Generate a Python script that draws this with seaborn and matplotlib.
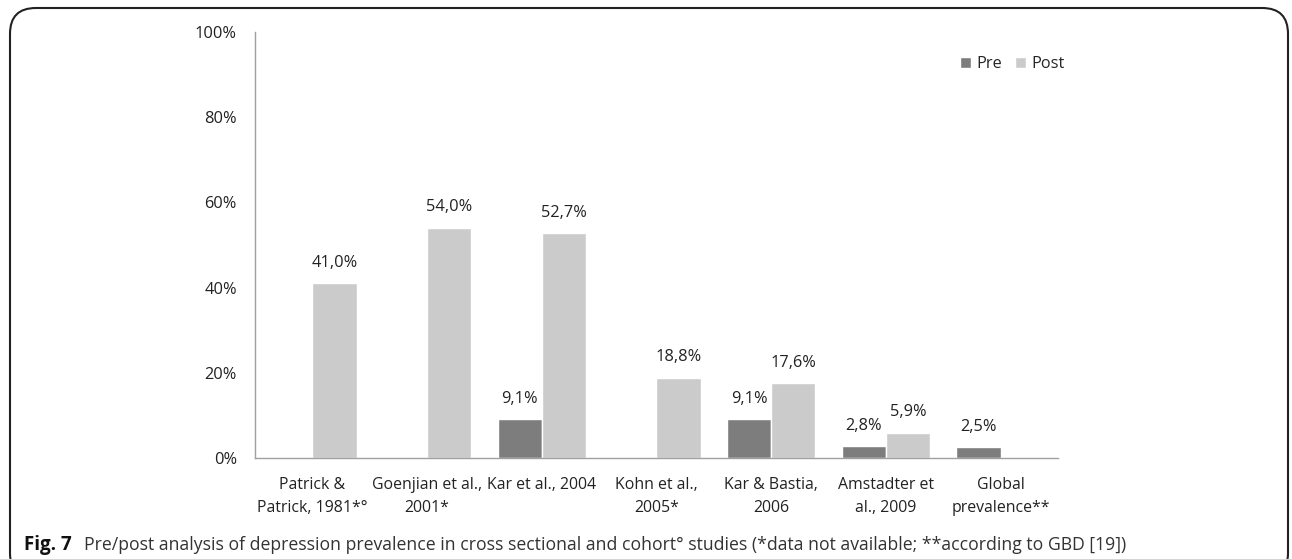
import matplotlib
matplotlib.use("Agg")
import matplotlib.pyplot as plt
from matplotlib.patches import FancyBboxPatch
import seaborn as sns
import pandas as pd
import numpy as np

categories = ["Patrick &\nPatrick, 1981*°", "Goenjian et al.,\n2001*", "Kar et al., 2004",
              "Kohn et al.,\n2005*", "Kar & Bastia,\n2006", "Amstadter et\nal., 2009", "Global\nprevalence**"]
pre = [np.nan, np.nan, 9.1, np.nan, 9.1, 2.8, 2.5]
post = [41.0, 54.0, 52.7, 18.8, 17.6, 5.9, np.nan]
yticks = [0, 20, 40, 60, 80, 100]

rows = []
for c, a, b in zip(categories, pre, post):
    if not np.isnan(a):
        rows.append({"cat": c, "series": "Pre", "val": a})
    if not np.isnan(b):
        rows.append({"cat": c, "series": "Post", "val": b})
df = pd.DataFrame(rows)

sns.set_theme(style="white")
plt.rcParams['font.family'] = ['Open Sans', 'DejaVu Sans']

fig = plt.figure(figsize=(12.92, 5.59), dpi=100)
ax = fig.add_axes([255/1292, 1 - 458/559, (1058-255)/1292, (458-32)/559])

palette = {"Pre": "#7d7d7d", "Post": "#cbcbcb"}
sns.barplot(data=df, x="cat", y="val", hue="series", order=categories,
            hue_order=["Pre", "Post"], palette=palette, width=0.77,
            saturation=1, ax=ax, legend=True)

for cont in ax.containers:
    labels = [f"{v:.1f}%".replace(".", ",") for v in cont.datavalues]
    ax.bar_label(cont, labels=labels, padding=9, fontsize=11.8, color="#222222")

ax.set_ylim(0, 100)
ax.set_xlim(-0.5, len(categories) - 0.5)
ax.set_yticks(yticks)
ax.set_yticklabels([f"{t}%" for t in yticks], fontsize=11.8, color="#222222")
ax.set_xticks(range(len(categories)))
ax.set_xticklabels(categories, fontsize=11.4, color="#222222", linespacing=1.55)
ax.tick_params(axis="y", pad=13, length=0)
ax.tick_params(axis="x", pad=14, length=0)
ax.set_xlabel("")
ax.set_ylabel("")
for s in ["top", "right"]:
    ax.spines[s].set_visible(False)
for s in ["left", "bottom"]:
    ax.spines[s].set_color("#a0a0a0")
    ax.spines[s].set_linewidth(1.0)

ax.legend(loc="center left", bbox_to_anchor=(945/1292, 1 - 64/559),
          bbox_transform=fig.transFigure, ncol=2, frameon=False,
          fontsize=11.8, handlelength=0.7, handleheight=0.7,
          handletextpad=0.3, columnspacing=0.8)

# caption
fig.text(24/1292, 1 - 545/559, "Fig. 7", fontsize=13.5, va="center", ha="left",
         color="#111111", fontweight="bold")
fig.text(84/1292, 1 - 545/559,
         "Pre/post analysis of depression prevalence in cross sectional and cohort° studies (*data not available; **according to GBD [19])",
         fontsize=12.7, va="center", ha="left", color="#333333")

box = FancyBboxPatch((10/1292, -20/559), (1288-10)/1292, (559+20-8)/559,
                     boxstyle="round,pad=0,rounding_size=0.02", transform=fig.transFigure,
                     fill=False, edgecolor="#222222", linewidth=1.5, mutation_aspect=1292/559)
fig.patches.append(box)

fig.savefig("out.png", dpi=100)
